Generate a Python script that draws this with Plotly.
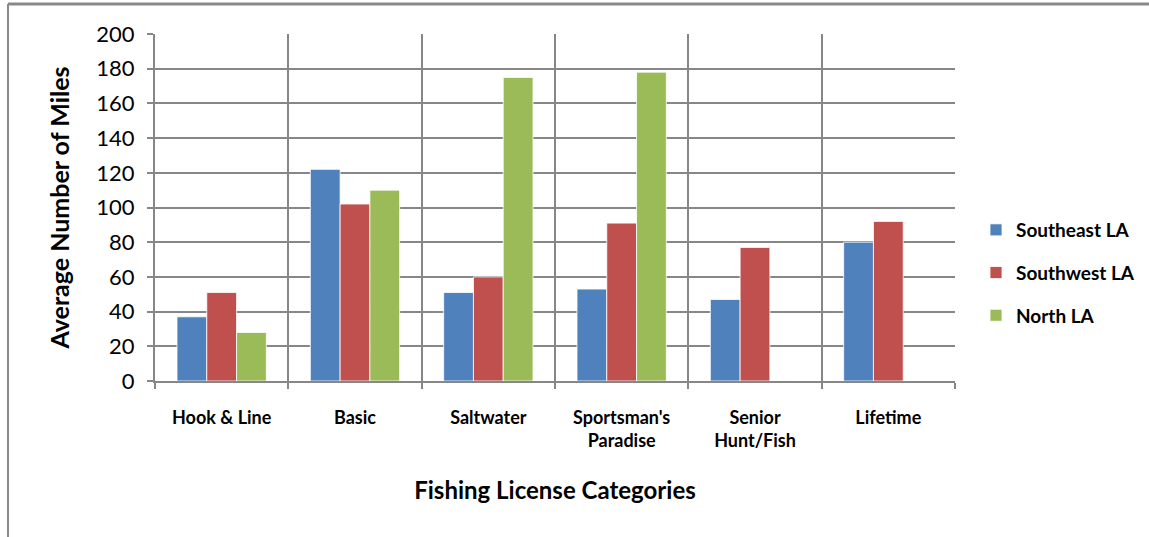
import plotly.graph_objects as go

categories = ["Hook & Line", "Basic", "Saltwater", "Sportsman's<br>Paradise", "Senior<br>Hunt/Fish", "Lifetime"]
southeast = [37, 122, 51, 53, 47, 80]
southwest = [51, 102, 60, 91, 77, 92]
north = [28, 110, 175, 178, None, None]
series_names = ["Southeast LA", "Southwest LA", "North LA"]
colors = ["#4F81BD", "#C0504D", "#9BBB59"]
y_ticks = list(range(0, 201, 20))

FONT = "Lato, 'Open Sans', sans-serif"
fig = go.Figure()
for i, (name, vals, c) in enumerate(zip(series_names, [southeast, southwest, north], colors)):
    fig.add_trace(go.Bar(
        x=categories, y=vals, name=name, legendgroup=f"g{i}",
        marker=dict(color=c, line=dict(color="rgba(255,255,255,0.8)", width=1)),
    ))

W, H = 1149, 537
L, R, T, B = 155, 194, 34, 156
pw, ph = W - L - R, H - T - B

def px_x(x):
    return (x - L) / pw

def px_y(y):
    return (H - B - y) / ph

fig.update_layout(
    width=W, height=H,
    margin=dict(l=L, r=R, t=T, b=B, autoexpand=False),
    paper_bgcolor="white", plot_bgcolor="white",
    barmode="group", bargap=0.33, bargroupgap=0,
    font=dict(family=FONT, color="black"),
    showlegend=True,
    legend=dict(
        x=px_x(976), xanchor="left", y=px_y(273), yanchor="middle",
        font=dict(size=19, family=FONT, color="black", weight="bold"),
        tracegroupgap=15, bgcolor="rgba(0,0,0,0)",
        itemwidth=30,
    ),
    xaxis=dict(
        type="category", tickson="boundaries",
        showgrid=True, gridcolor="#878787", gridwidth=2,
        showline=True, linecolor="#878787", linewidth=2,
        ticks="outside", ticklen=6, tickcolor="#878787", tickwidth=2,
        tickfont=dict(size=18, family=FONT, color="black", weight="bold"),
        ticklabelstandoff=19,
        title=dict(text="Fishing License Categories", standoff=32,
                   font=dict(size=24, family=FONT, color="black", weight="bold")),
    ),
    yaxis=dict(
        range=[0, 200], tickvals=y_ticks,
        showgrid=True, gridcolor="#878787", gridwidth=2,
        showline=True, linecolor="#878787", linewidth=2,
        ticks="outside", ticklen=6, tickcolor="#878787", tickwidth=2,
        tickfont=dict(size=22, family=FONT, color="black"),
        ticklabelstandoff=8,
        title=dict(text="Average Number of Miles", standoff=20,
                   font=dict(size=25, family=FONT, color="black", weight="bold")),
        zeroline=False,
    ),
)

# outer chart frame (partially cropped in the reference)
fig.add_shape(type="line", xref="paper", yref="paper",
              x0=px_x(8), x1=px_x(W + 10), y0=px_y(4), y1=px_y(4),
              line=dict(color="#888888", width=3))
fig.add_shape(type="line", xref="paper", yref="paper",
              x0=px_x(8), x1=px_x(8), y0=px_y(4), y1=px_y(H + 10),
              line=dict(color="#888888", width=2))

fig.write_html("out.html", config={"displayModeBar": False},
               post_script="document.body.style.margin='0';")
